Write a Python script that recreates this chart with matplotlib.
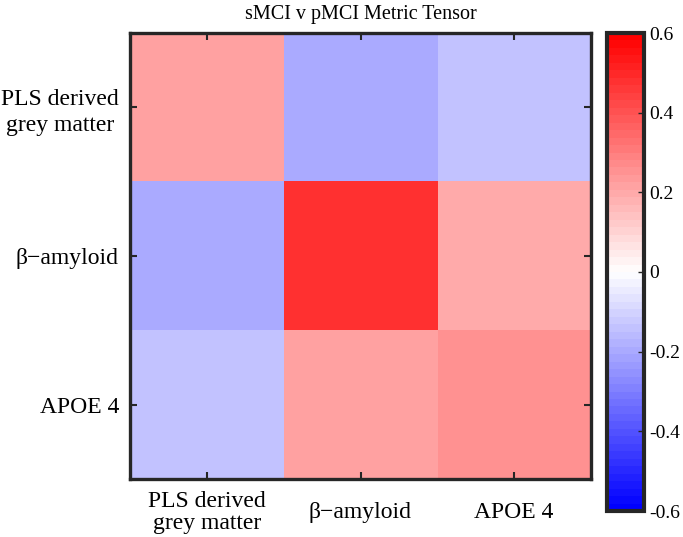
import matplotlib
matplotlib.use("Agg")
import matplotlib.pyplot as plt
import numpy as np

plt.rcParams['font.family'] = ['Liberation Serif', 'DejaVu Serif']

labels = ["PLS derived\ngrey matter", "β\u2212amyloid", "APOE 4"]
row0 = [0.22, -0.20, -0.15]
row1 = [-0.20, 0.48, 0.20]
row2 = [-0.15, 0.21, 0.26]
title = "sMCI v pMCI Metric Tensor"
cbar_ticks = [-0.6, -0.4, -0.2, 0, 0.2, 0.4, 0.6]

data = np.array([row0, row1, row2])

W, H = 683, 537
fig = plt.figure(figsize=(W/100, H/100), dpi=100)
ax = fig.add_axes([130/W, 1-479/H, (591-130)/W, (479-33)/H])
cax = fig.add_axes([607/W, 1-511/H, 37/W, (511-33)/H])

cmap = plt.get_cmap('bwr', 64)
im = ax.imshow(data, cmap=cmap, vmin=-0.6, vmax=0.6, aspect='auto')

edge = '#262626'
for sp in ax.spines.values():
    sp.set_linewidth(2.4)
    sp.set_color(edge)
ax.set_xticks(range(3))
ax.set_yticks(range(3))
ax.set_xticklabels(labels, fontsize=17, linespacing=1.1, va='center')
ax.set_yticklabels(labels, fontsize=17, linespacing=1.3, multialignment='center')
ax.tick_params(axis='x', direction='in', length=5, width=1.5, color=edge,
               top=True, pad=24)
ax.tick_params(axis='y', direction='in', length=5, width=1.5, color=edge,
               right=True, pad=8)
ax.set_title(title, fontsize=14.5, pad=10)

cb = fig.colorbar(im, cax=cax, ticks=cbar_ticks)
cb.outline.set_linewidth(3)
cb.outline.set_edgecolor(edge)
cb.ax.tick_params(direction='in', length=4, width=1, color=edge, labelsize=14, pad=4)
cb.ax.set_yticklabels(['-0.6', '-0.4', '-0.2', '0', '0.2', '0.4', '0.6'])

fig.savefig("out.png", dpi=100)
